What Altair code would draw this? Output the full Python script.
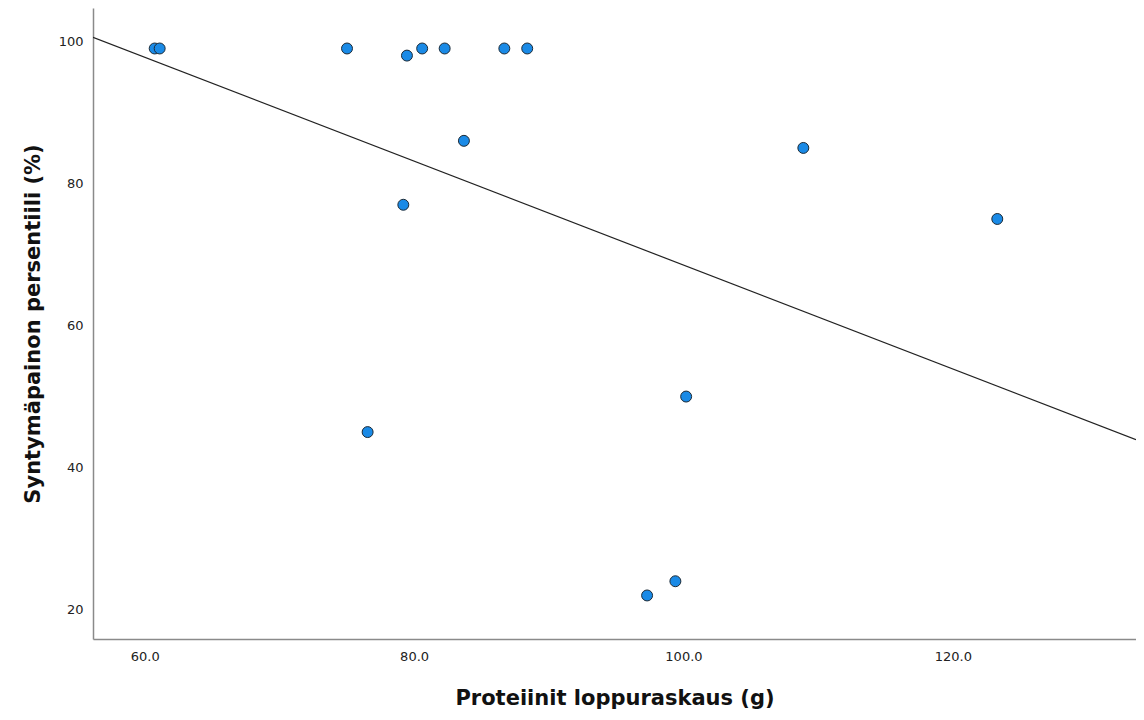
import altair as alt
import pandas as pd

protein = [60.74, 61.11, 75.02, 79.47, 80.6, 82.27, 86.7, 88.4, 83.7, 79.2,
           76.55, 108.9, 123.3, 100.2, 97.3, 99.4]
percentile = [99, 99, 99, 98, 99, 99, 99, 99, 86, 77, 45, 85, 75, 50, 22, 24]

x_ticks = [60, 80, 100, 120]
y_ticks = [20, 40, 60, 80, 100]
x_domain = [56.16, 133.6]
y_domain = [15.87, 104.7]

x_title = "Proteiinit loppuraskaus (g)"
y_title = "Syntymäpainon persentiili (%)"

df = pd.DataFrame({"x": protein, "y": percentile})

xenc = alt.X("x:Q", scale=alt.Scale(domain=x_domain, nice=False, zero=False),
             axis=alt.Axis(values=x_ticks, format=".1f", title=x_title,
                           grid=False, ticks=False, tickSize=0, labelPadding=11,
                           titlePadding=24, domainColor="#8a8a8a", domainWidth=1.5,
                           labelFontSize=13, labelColor="#222222", labelFont="DejaVu Sans",
                           titleFontSize=21, titleFont="DejaVu Sans", titleFontWeight="bold",
                           titleColor="#111111"))
yenc = alt.Y("y:Q", scale=alt.Scale(domain=y_domain, nice=False, zero=False),
             axis=alt.Axis(values=y_ticks, format="d", title=y_title,
                           grid=False, ticks=False, tickSize=0, labelPadding=10,
                           titlePadding=15, domainColor="#8a8a8a", domainWidth=1.5,
                           labelFontSize=13, labelColor="#222222", labelFont="DejaVu Sans",
                           titleFontSize=21, titleFont="DejaVu Sans", titleFontWeight="bold",
                           titleColor="#111111"))

line = alt.Chart(df).transform_regression(
    "x", "y", extent=x_domain
).mark_line(color="#222222", strokeWidth=1.2, clip=True).encode(x=xenc, y=yenc)

points = alt.Chart(df).mark_point(
    filled=True, size=120, fill="#1a8ae6", stroke="#1c2a36", strokeWidth=1, opacity=1
).encode(x=xenc, y=yenc)

chart = alt.layer(line, points).properties(
    width=1043, height=631,
    padding={"left": 85, "top": 0, "right": 0, "bottom": 73},
    autosize=alt.AutoSizeParams(type="none"),
).configure_view(stroke=None)

chart.save("out.html", embed_options={"renderer": "svg", "actions": False})
